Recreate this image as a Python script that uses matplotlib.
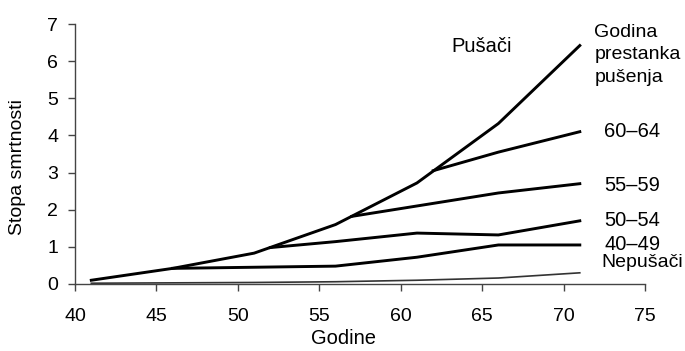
import matplotlib
matplotlib.use("Agg")
import matplotlib.pyplot as plt

plt.rcParams["font.family"] = ["Liberation Sans", "DejaVu Sans"]

# data
ages = [41, 46, 51, 56, 61, 66, 71]
smokers = [0.1, 0.42, 0.83, 1.6, 2.72, 4.32, 6.42]
nonsmokers = [0.02, 0.03, 0.04, 0.06, 0.1, 0.16, 0.3]

ages_60_64 = [62, 66, 71]
quit_60_64 = [3.05, 3.55, 4.1]
ages_55_59 = [57, 61, 66, 71]
quit_55_59 = [1.82, 2.1, 2.45, 2.7]
ages_50_54 = [52, 56, 61, 66, 71]
quit_50_54 = [0.98, 1.14, 1.37, 1.32, 1.7]
ages_40_49 = [46, 51, 56, 61, 66, 71]
quit_40_49 = [0.42, 0.45, 0.48, 0.72, 1.05, 1.05]

quit_labels = ["60–64", "55–59", "50–54", "40–49"]
label_y = [4.1, 2.64, 1.7, 1.07]

fig = plt.figure(figsize=(6.85, 3.51), dpi=100)
ax = fig.add_axes([0.1095, 0.191, 0.832, 0.7406])

lw = 2.1
ax.plot(ages, nonsmokers, color="#333333", lw=1.2)
ax.plot(ages_40_49, quit_40_49, color="black", lw=lw)
ax.plot(ages_50_54, quit_50_54, color="black", lw=lw)
ax.plot(ages_55_59, quit_55_59, color="black", lw=lw)
ax.plot(ages_60_64, quit_60_64, color="black", lw=lw)
ax.plot(ages, smokers, color="black", lw=lw)

ax.set_xlim(40, 75)
ax.set_ylim(0, 7)
ax.set_xticks(range(40, 76, 5))
ax.set_yticks(range(0, 8))
ax.spines["top"].set_visible(False)
ax.spines["right"].set_visible(False)
for s in ("left", "bottom"):
    ax.spines[s].set_color("#444444")
    ax.spines[s].set_linewidth(1.0)
ax.tick_params(direction="out", length=5, width=1, color="#444444",
               labelsize=14)
ax.tick_params(axis="x", pad=12)
ax.tick_params(axis="y", pad=7)

fig.text(18 / 685, 1 - 167 / 351, "Stopa smrtnosti", fontsize=14,
         rotation=90, ha="center", va="center")
fig.text(343 / 685, 1 - 339 / 351, "Godine", fontsize=14.5,
         ha="center", va="center")

ax.text(65.0, 6.39, "Pušači", fontsize=14.5, ha="center", va="center")
for txt, y in zip(["Godina", "prestanka", "pušenja"], [6.77, 6.17, 5.55]):
    ax.text(71.9, y, txt, fontsize=14, ha="left", va="center", clip_on=False)
for lab, y in zip(quit_labels, label_y):
    ax.text(72.5, y, lab, fontsize=14.5, ha="left", va="center")
ax.text(72.3, 0.59, "Nepušači", fontsize=14, ha="left", va="center",
        clip_on=False)

fig.savefig("out.png", dpi=100)
